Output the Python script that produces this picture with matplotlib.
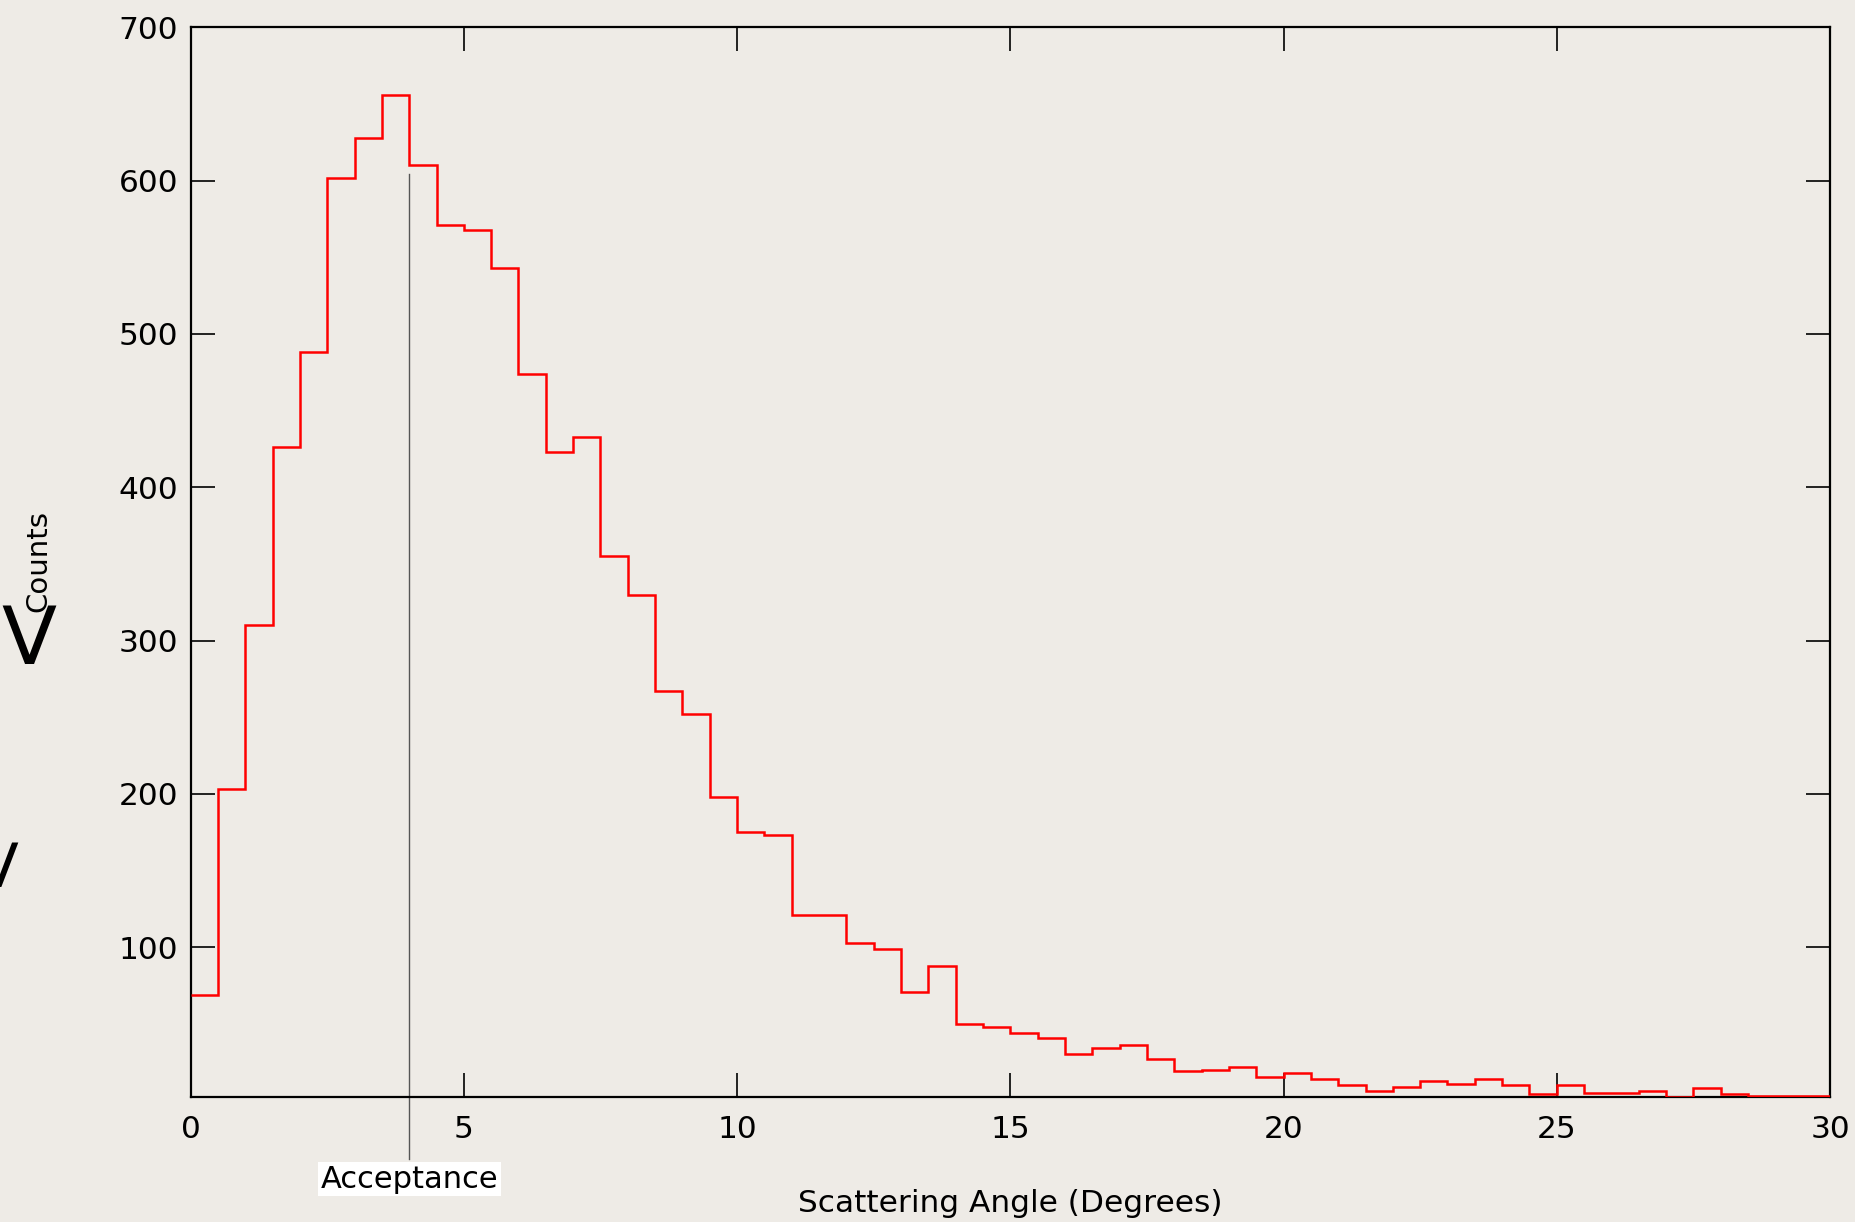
import numpy as np
import matplotlib
matplotlib.use("Agg")
import matplotlib.pyplot as plt
import matplotlib.transforms as mtransforms

# histogram of scattering angles, 0.5 degree bins from 0 to 30
bin_edges = np.arange(0, 30.01, 0.5)
counts = [69, 203, 310, 426, 488, 602, 628, 656, 610, 571,
          568, 543, 474, 423, 433, 355, 330, 267, 252, 198,
          175, 173, 121, 121, 103, 99, 71, 88, 50, 48,
          44, 41, 30, 34, 36, 27, 19, 20, 22, 15,
          18, 14, 10, 6, 9, 13, 11, 14, 10, 4,
          10, 5, 5, 6, 2, 8, 4, 3, 3, 3]
acceptance = 4.0
x_ticks = [0, 5, 10, 15, 20, 25, 30]
y_ticks = [100, 200, 300, 400, 500, 600, 700]

bg = "#eeebe6"
fig = plt.figure(figsize=(18.56, 12.22), dpi=100, facecolor=bg)
ax = fig.add_axes([0.1027, 0.1027, 0.8833, 0.875])
ax.set_facecolor(bg)

ax.stairs(counts, bin_edges, baseline=None, color="#ff0000", lw=1.8, zorder=3)

# acceptance marker, runs down below the axis to the label
ax.plot([acceptance, acceptance], [604, -38], color="#555555", lw=1.0,
        clip_on=False, zorder=2)
trans = mtransforms.blended_transform_factory(ax.transData, fig.transFigure)
ax.text(acceptance, 0.035, "Acceptance", transform=trans, ha="center",
        va="center", fontsize=22,
        bbox=dict(facecolor="white", edgecolor="none", pad=2))

ax.set_xlim(0, 30)
ax.set_ylim(2.6, 700)
ax.set_xticks(x_ticks)
ax.set_yticks(y_ticks)
ax.tick_params(direction="in", length=17, width=1.2, labelsize=22.5,
               top=True, right=True, color="black")
ax.tick_params(axis="x", pad=13)
ax.tick_params(axis="y", pad=9)
for sp in ax.spines.values():
    sp.set_linewidth(1.6)

fig.text(0.5442, 0.0155, "Scattering Angle (Degrees)", ha="center",
         va="center", fontsize=22.5)
fig.text(0.0205, 0.541, "Counts", rotation=90, ha="center", va="center",
         fontsize=21)

# stray slide glyphs at the left edge
fig.text(0.0155, 0.475, "V", ha="center", va="center", fontsize=58)
fig.text(-0.0015, 0.288, "V", ha="center", va="center", fontsize=44)

fig.savefig("out.png", dpi=100, facecolor=bg)
